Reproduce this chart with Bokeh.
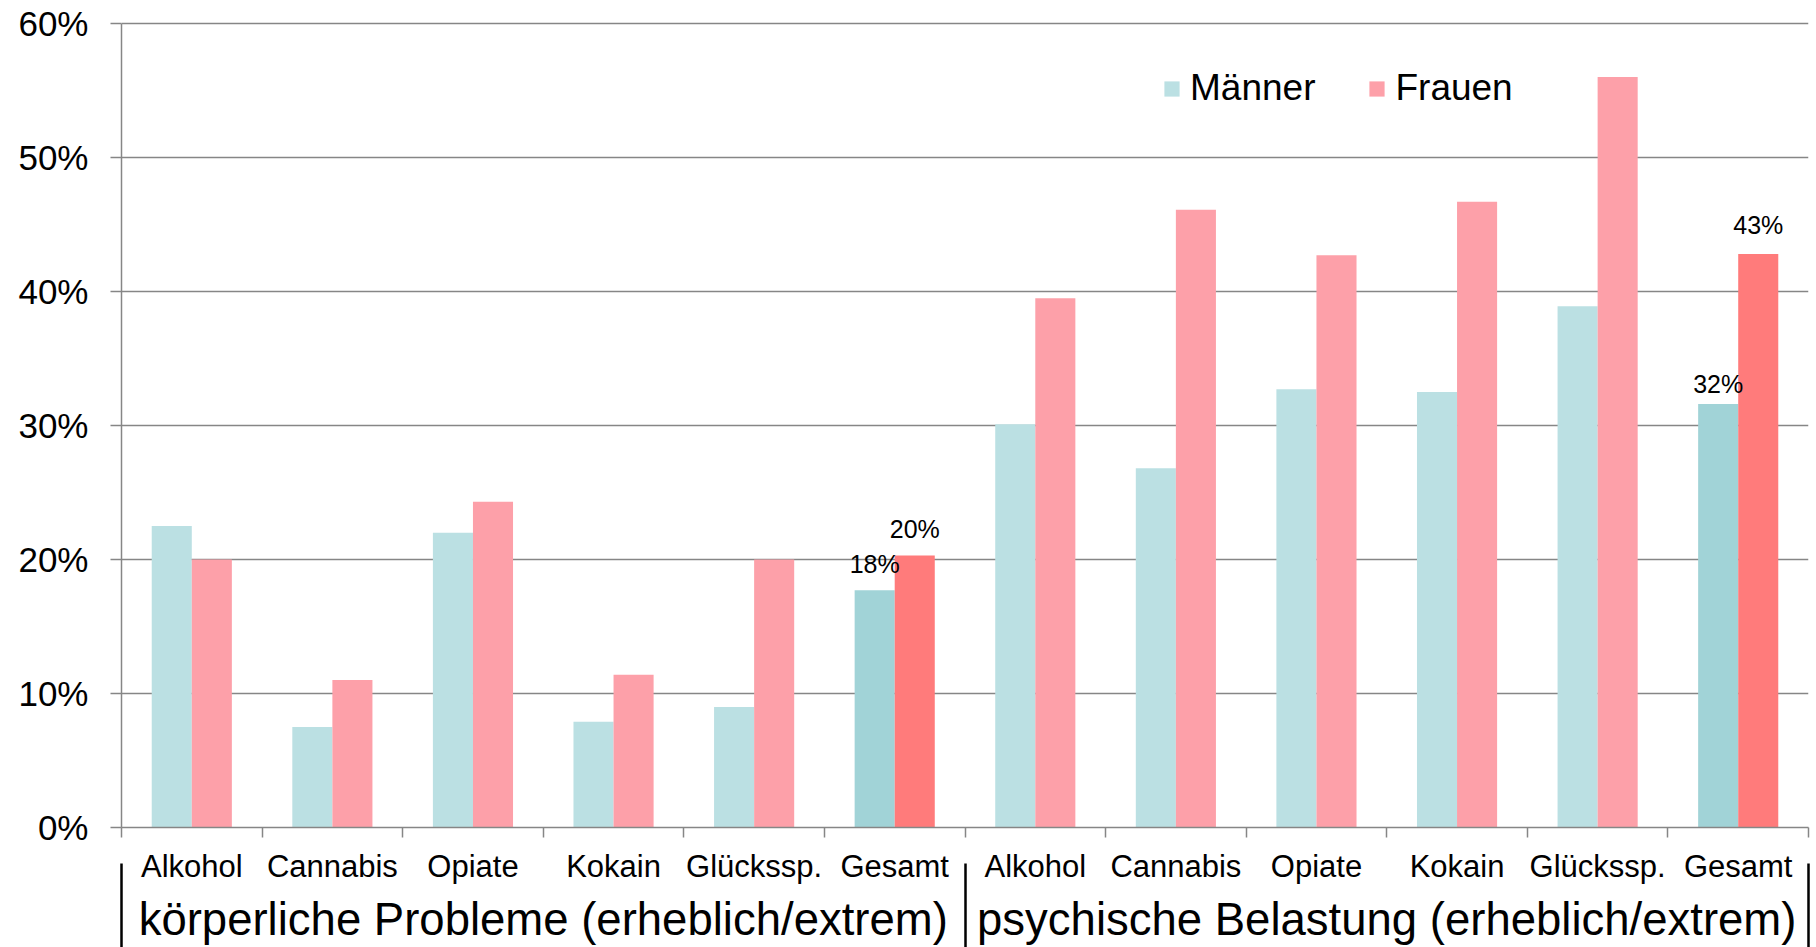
from bokeh.plotting import figure
from bokeh.models import (ColumnDataSource, Range1d, FixedTicker, PrintfTickFormatter,
                          LinearAxis, Legend, LegendItem)
from bokeh.transform import dodge
from bokeh.core.properties import value
from bokeh.embed import file_html
from bokeh.resources import INLINE

# ---------------- data ----------------
substances = ["Alkohol", "Cannabis", "Opiate", "Kokain", "Glückssp.", "Gesamt"]
groups = ["körperliche Probleme (erheblich/extrem)", "psychische Belastung (erheblich/extrem)"]
maenner = [22.5, 7.5, 22.0, 7.9, 9.0, 17.7, 30.1, 26.8, 32.7, 32.5, 38.9, 31.6]
frauen = [20.0, 11.0, 24.3, 11.4, 20.0, 20.3, 39.5, 46.1, 42.7, 46.7, 56.0, 42.8]
y_ticks = [0, 10, 20, 30, 40, 50, 60]
series_names = ["Männer", "Frauen"]

# ---------------- styling ----------------
FONT = "Liberation Sans"
GRID = "#868686"
M_COL, M_TOT = "#BBE0E3", "#A1D3D7"
F_COL, F_TOT = "#FDA0A9", "#FF7B7B"
BAR_W = 0.285
# vertical pixel offsets of the value labels on the "Gesamt" bars (first / second group)
M_LABEL_OFF = [-26, -20]
F_LABEL_OFF = [-26, -29]

labels = substances * len(groups)
n = len(labels)
per = len(substances)
centers = [i + 0.5 for i in range(n)]
is_total = [s == "Gesamt" for s in labels]

src = ColumnDataSource(dict(
    x=centers, m=maenner, f=frauen,
    mc=[M_TOT if t else M_COL for t in is_total],
    fc=[F_TOT if t else F_COL for t in is_total],
))
tot_src = ColumnDataSource(dict(
    x=[c for c, t in zip(centers, is_total) if t],
    m=[v for v, t in zip(maenner, is_total) if t],
    f=[v for v, t in zip(frauen, is_total) if t],
    mt=[f"{round(v)}%" for v, t in zip(maenner, is_total) if t],
    ft=[f"{round(v)}%" for v, t in zip(frauen, is_total) if t],
    mo=M_LABEL_OFF, fo=F_LABEL_OFF,
))

p = figure(width=1816, height=947, output_backend="svg", toolbar_location=None,
           x_range=Range1d(0, n), y_range=Range1d(0, 60.37),
           min_border_left=121, min_border_right=8, min_border_top=18, min_border_bottom=120,
           outline_line_color=None, background_fill_color="white", border_fill_color="white")

rm = p.vbar(x=dodge("x", -BAR_W / 2, range=p.x_range), top="m", width=BAR_W,
            fill_color="mc", line_color=None, source=src)
rf = p.vbar(x=dodge("x", BAR_W / 2, range=p.x_range), top="f", width=BAR_W,
            fill_color="fc", line_color=None, source=src)

for col, txt, off, yo in (("m", "mt", -BAR_W / 2, "mo"), ("f", "ft", BAR_W / 2, "fo")):
    p.text(x=dodge("x", off, range=p.x_range), y=col, text=txt, source=tot_src,
           text_align="center", text_baseline="alphabetic", y_offset=yo,
           text_font=value(FONT), text_font_size="25px", text_color="black")

# y axis
yt = FixedTicker(ticks=y_ticks)
p.yaxis.ticker = yt
p.yaxis.formatter = PrintfTickFormatter(format="%d%%")
p.yaxis.bounds = (0, 60)
p.yaxis.major_label_text_font = FONT
p.yaxis.major_label_text_font_size = "35px"
p.yaxis.major_label_text_color = "black"
p.yaxis.major_label_standoff = 22
p.yaxis.axis_line_color = GRID
p.yaxis.axis_line_width = 1.5
p.yaxis.major_tick_line_color = GRID
p.yaxis.major_tick_line_width = 1.5
p.yaxis.major_tick_out = 11
p.yaxis.major_tick_in = 0
p.yaxis.minor_tick_line_color = None
p.ygrid.ticker = yt
p.ygrid.grid_line_color = GRID
p.ygrid.grid_line_width = 1.5
p.xgrid.grid_line_color = None

# x axis: category labels at centres, ticks at boundaries
p.xaxis.ticker = FixedTicker(ticks=centers, minor_ticks=list(range(n + 1)))
p.xaxis.major_label_overrides = {c: l for c, l in zip(centers, labels)}
p.xaxis.major_label_text_font = FONT
p.xaxis.major_label_text_font_size = "31px"
p.xaxis.major_label_text_color = "black"
p.xaxis.major_label_standoff = 11
p.xaxis.major_tick_line_color = None
p.xaxis.major_tick_out = 0
p.xaxis.major_tick_in = 0
p.xaxis.minor_tick_line_color = GRID
p.xaxis.minor_tick_line_width = 1.5
p.xaxis.minor_tick_out = 10
p.xaxis.minor_tick_in = 0
p.xaxis.axis_line_color = GRID
p.xaxis.axis_line_width = 1.5

# second x axis: group labels
g_centers = [k * per + per / 2 for k in range(len(groups))]
g_axis = LinearAxis(ticker=FixedTicker(ticks=g_centers, minor_ticks=[]),
                    major_label_overrides={c: g for c, g in zip(g_centers, groups)},
                    major_label_text_font=FONT, major_label_text_font_size="45.5px",
                    major_label_text_color="black", major_label_standoff=7,
                    major_tick_line_color=None, major_tick_out=0, major_tick_in=0,
                    minor_tick_line_color=None, minor_tick_out=0, minor_tick_in=0,
                    axis_line_color=None)
p.add_layout(g_axis, "below")

# third x axis (no labels): group separators drawn upward from the bottom
s_axis = LinearAxis(ticker=FixedTicker(ticks=[], minor_ticks=[k * per for k in range(len(groups) + 1)]),
                    major_label_standoff=0, major_tick_line_color=None,
                    major_tick_out=0, major_tick_in=0,
                    minor_tick_line_color="black", minor_tick_line_width=2.5,
                    minor_tick_out=0, minor_tick_in=84, axis_line_color=None)
p.add_layout(s_axis, "below")

legend = Legend(items=[LegendItem(label=series_names[0], renderers=[rm], index=0),
                       LegendItem(label=series_names[1], renderers=[rf], index=0)],
                orientation="horizontal", location=(1041, 718),
                glyph_width=19, glyph_height=19, label_standoff=9, spacing=52,
                label_text_font=FONT, label_text_font_size="37px", label_text_color="black",
                padding=0, margin=0, border_line_color=None, background_fill_alpha=0)
p.add_layout(legend)

open("out.html", "w").write(file_html(p, INLINE))
